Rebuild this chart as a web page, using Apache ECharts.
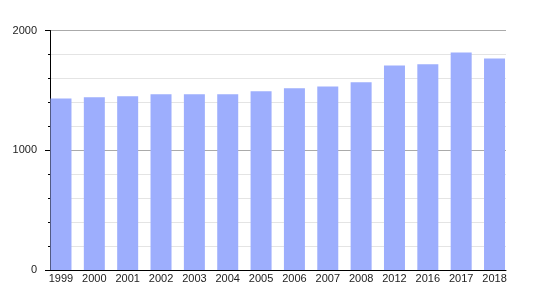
<!DOCTYPE html>
<html>
<head>
<meta charset="utf-8">
<script src="https://cdn.jsdelivr.net/npm/echarts@6/dist/echarts.min.js"></script>
<style>html,body{margin:0;padding:0;background:#fff}#c{width:535px;height:300px}</style>
</head>
<body>
<div id="c"></div>
<script>
const categories = ['1999','2000','2001','2002','2003','2004','2005','2006','2007','2008','2012','2016','2017','2018'];
const values = [1433,1442,1450,1467,1467,1467,1492,1517,1533,1567,1708,1719,1817,1767];
const yTicks = [0,1000,2000];

const chart = echarts.init(document.getElementById('c'), null, {renderer:'canvas'});
const font = {fontFamily:'Liberation Sans, Arial, sans-serif', fontSize:11, color:'#222'};
chart.setOption({
  animation:false,
  backgroundColor:'#fff',
  grid:[
    {left:50, right:29, top:30.5, bottom:30, containLabel:false},
    {left:44.3, right:23.8, top:30.5, bottom:30, containLabel:false}
  ],
  xAxis:[
    {gridIndex:0, type:'category', data:categories, axisLine:{show:true, lineStyle:{color:'#000', width:1}},
     axisTick:{show:false}, axisLabel:{show:false}, splitLine:{show:false}, z:5},
    {gridIndex:1, type:'category', data:categories, axisLine:{show:false}, axisTick:{show:false},
     axisLabel:Object.assign({margin:3, interval:0}, font), splitLine:{show:false}}
  ],
  yAxis:[
    {gridIndex:0, type:'value', min:yTicks[0], max:yTicks[yTicks.length-1], interval:1000,
     axisLine:{show:true, lineStyle:{color:'#000', width:1}},
     axisTick:{show:true, length:5, lineStyle:{color:'#000'}},
     minorTick:{show:true, splitNumber:5, length:2, lineStyle:{color:'#000'}},
     axisLabel:Object.assign({margin:13, formatter:v => String(v)}, font),
     splitLine:{show:true, lineStyle:{color:'#aaaaaa', width:1}},
     minorSplitLine:{show:true, lineStyle:{color:'#e4e4e4', width:1}}},
    {gridIndex:1, type:'value', min:yTicks[0], max:yTicks[yTicks.length-1], show:false}
  ],
  series:[{
    type:'bar', xAxisIndex:1, yAxisIndex:1, data:values, barWidth:21,
    itemStyle:{color:'#9daefd'}, z:3
  }]
});
</script>
</body>
</html>
